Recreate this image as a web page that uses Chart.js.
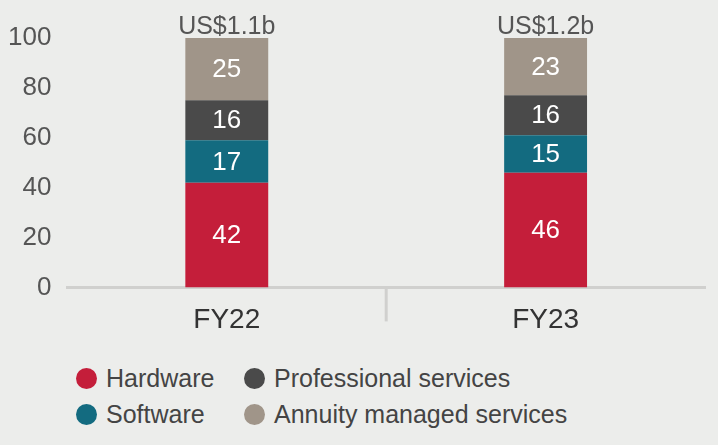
<!DOCTYPE html><html><head><meta charset="utf-8">
<script src="https://cdn.jsdelivr.net/npm/chart.js@4"></script>
<style>
body{margin:0;background:#ecedeb;font-family:'Liberation Sans Narrow','Liberation Sans',sans-serif;}
#w{position:relative;width:718px;height:345px;}
.lg{position:absolute;font-size:25px;color:#444;display:flex;align-items:center;}
.dot{width:21px;height:21px;border-radius:50%;margin-right:9px;}
</style></head><body>
<div id="w"><canvas id="c" width="718" height="345"></canvas></div>
<div class="lg" style="left:76px;top:364px"><span class="dot" style="background:#c41e3a"></span>Hardware</div>
<div class="lg" style="left:244px;top:364px"><span class="dot" style="background:#4a4a4a"></span>Professional services</div>
<div class="lg" style="left:76px;top:400px"><span class="dot" style="background:#136b80"></span>Software</div>
<div class="lg" style="left:244px;top:400px"><span class="dot" style="background:#a09589"></span>Annuity managed services</div>
<script>
const categories=['FY22','FY23'];
const totals=['US$1.1b','US$1.2b'];
const hardware=[42,46];
const software=[17,15];
const professional=[16,16];
const annuity=[25,23];
const yTicks=[0,20,40,60,80,100];
const F="'Liberation Sans Narrow','Liberation Sans',sans-serif";
const labels={id:'lbl',afterDatasetsDraw(ch){const c=ch.ctx;c.save();c.font='26px '+F;c.fillStyle='#fff';c.textAlign='center';c.textBaseline='middle';
ch.data.datasets.forEach((d,i)=>{ch.getDatasetMeta(i).data.forEach((b,j)=>{c.fillText(d.data[j],b.x,(b.y+b.base)/2+1);});});
c.fillStyle='#555';c.textBaseline='bottom';c.font='25px '+F;
ch.getDatasetMeta(3).data.forEach((b,j)=>c.fillText(totals[j],b.x,b.y+2));
const xs=ch.scales.x;const mid=(xs.getPixelForValue(0)+xs.getPixelForValue(1))/2;
c.strokeStyle='#d0d0ce';c.lineWidth=3;c.beginPath();c.moveTo(mid,ch.chartArea.bottom);c.lineTo(mid,ch.chartArea.bottom+34);c.stroke();c.restore();}};
new Chart(document.getElementById('c'),{type:'bar',data:{labels:categories,datasets:[
{label:'Hardware',data:hardware,backgroundColor:'#c41e3a'},
{label:'Software',data:software,backgroundColor:'#136b80'},
{label:'Professional services',data:professional,backgroundColor:'#4a4a4a'},
{label:'Annuity managed services',data:annuity,backgroundColor:'#a09589'}]},
options:{responsive:false,animation:false,devicePixelRatio:1,layout:{padding:{top:38,right:13,left:0,bottom:0}},
datasets:{bar:{categoryPercentage:1,barPercentage:0.26}},
plugins:{legend:{display:false},tooltip:{enabled:false}},
scales:{x:{stacked:true,grid:{display:false},border:{color:'#d0d0ce',width:3},ticks:{color:'#333',font:{size:28,family:F},padding:8}},
y:{stacked:true,min:0,max:100,afterBuildTicks:s=>{s.ticks=yTicks.map(v=>({value:v}));},grid:{display:false},border:{display:false},ticks:{color:'#555',font:{size:26,family:F},padding:8}}}},
plugins:[labels]});
</script></body></html>
